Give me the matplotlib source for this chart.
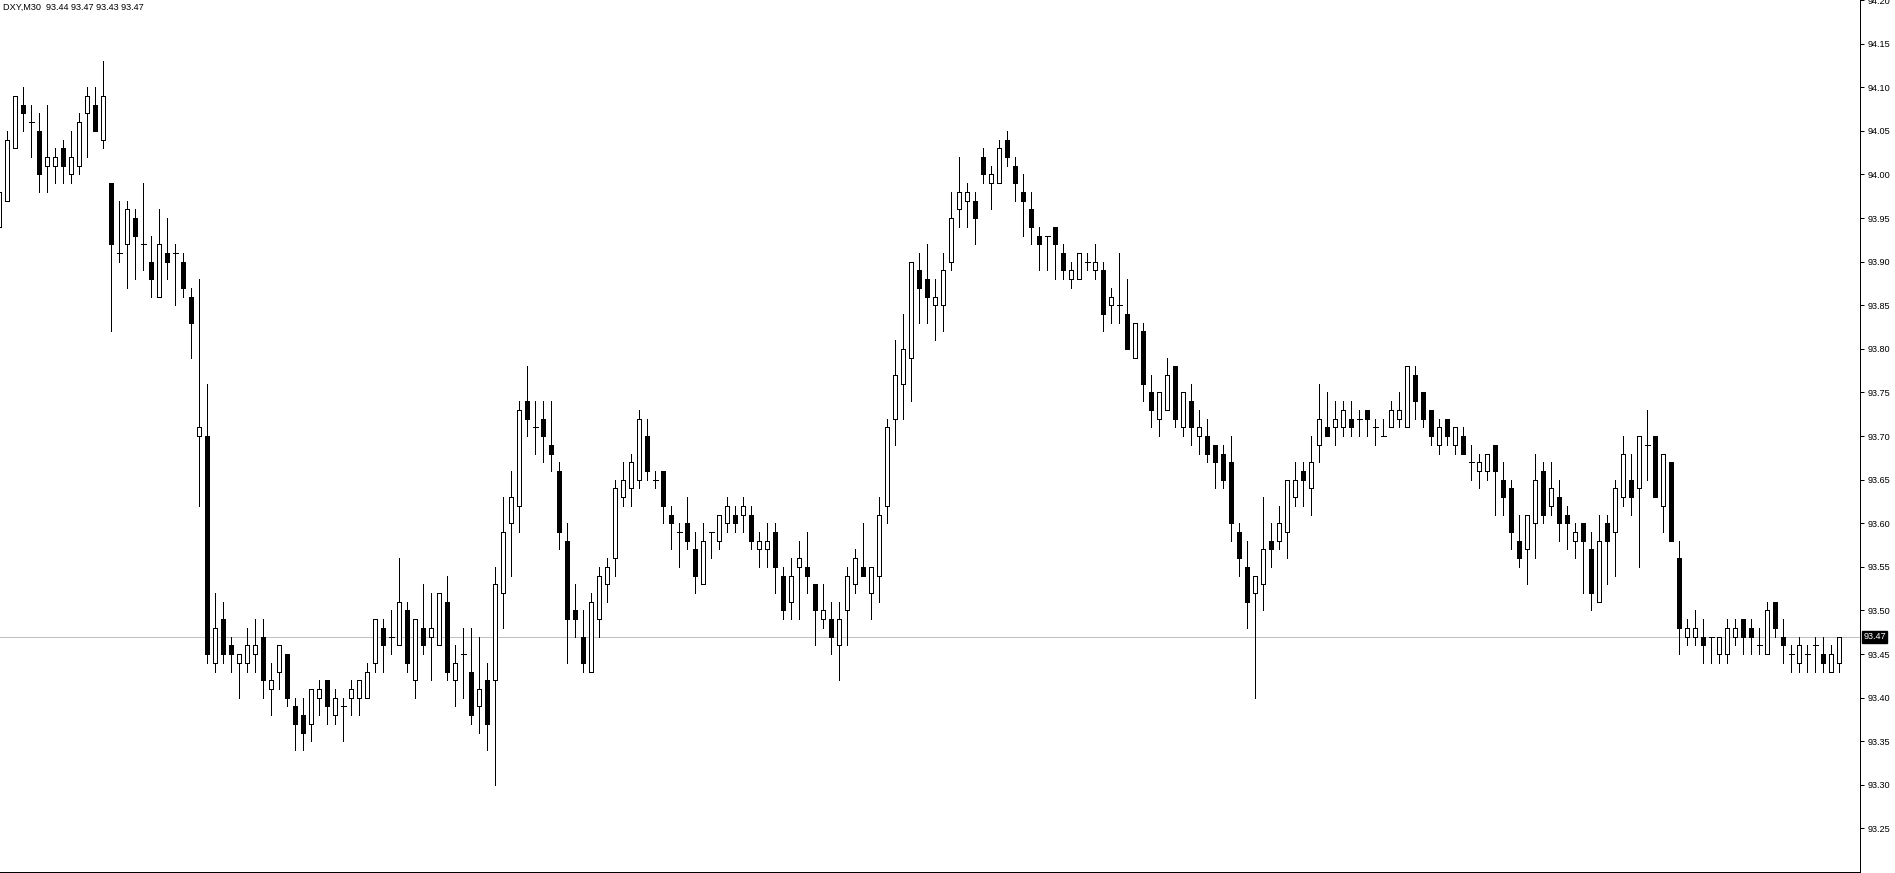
import matplotlib
matplotlib.use("Agg")
import matplotlib.pyplot as plt
import numpy as np

# ---- data (DXY, M30) ----
opens = [93.94, 93.97, 94.03, 94.08, 94.06, 94.05, 94.01, 94.01, 94.03, 94.00,
         94.01, 94.07, 94.08, 94.04, 93.99, 93.91, 93.92, 93.95, 93.92, 93.90,
         93.86, 93.91, 93.91, 93.90, 93.86, 93.70, 93.70, 93.44, 93.49, 93.46,
         93.44, 93.44, 93.45, 93.47, 93.41, 93.43, 93.45, 93.39, 93.38, 93.37,
         93.40, 93.42, 93.38, 93.39, 93.40, 93.40, 93.40, 93.44, 93.48, 93.47,
         93.46, 93.50, 93.42, 93.48, 93.47, 93.46, 93.51, 93.42, 93.45, 93.43,
         93.39, 93.42, 93.42, 93.52, 93.60, 93.62, 93.74, 93.71, 93.72, 93.69,
         93.66, 93.58, 93.50, 93.47, 93.43, 93.49, 93.53, 93.56, 93.63, 93.64,
         93.65, 93.70, 93.65, 93.66, 93.61, 93.59, 93.60, 93.57, 93.53, 93.59,
         93.58, 93.60, 93.61, 93.61, 93.61, 93.57, 93.57, 93.59, 93.54, 93.51,
         93.55, 93.55, 93.53, 93.49, 93.49, 93.46, 93.50, 93.53, 93.55, 93.52,
         93.54, 93.62, 93.72, 93.76, 93.79, 93.89, 93.88, 93.85, 93.85, 93.90,
         93.96, 93.97, 93.97, 94.02, 93.99, 93.99, 94.04, 94.01, 93.98, 93.96,
         93.93, 93.93, 93.94, 93.91, 93.88, 93.88, 93.90, 93.89, 93.89, 93.85,
         93.85, 93.84, 93.79, 93.82, 93.75, 93.72, 93.73, 93.78, 93.71, 93.74,
         93.70, 93.70, 93.69, 93.68, 93.67, 93.59, 93.55, 93.52, 93.53, 93.58,
         93.58, 93.59, 93.63, 93.66, 93.64, 93.69, 93.71, 93.71, 93.71, 93.72,
         93.72, 93.73, 93.71, 93.70, 93.71, 93.72, 93.71, 93.77, 93.75, 93.73,
         93.69, 93.72, 93.69, 93.70, 93.67, 93.66, 93.66, 93.69, 93.65, 93.64,
         93.58, 93.57, 93.60, 93.66, 93.62, 93.63, 93.61, 93.58, 93.60, 93.57,
         93.51, 93.60, 93.59, 93.63, 93.65, 93.64, 93.69, 93.70, 93.62, 93.67,
         93.56, 93.47, 93.47, 93.47, 93.47, 93.45, 93.45, 93.47, 93.49, 93.48,
         93.46, 93.45, 93.51, 93.47, 93.45, 93.44, 93.45, 93.46, 93.45, 93.43,
         93.44]
highs = [93.99, 94.05, 94.09, 94.10, 94.08, 94.07, 94.08, 94.03, 94.04, 94.05,
         94.07, 94.10, 94.10, 94.13, 93.99, 93.97, 93.97, 93.96, 93.99, 93.93,
         93.96, 93.95, 93.92, 93.91, 93.87, 93.88, 93.76, 93.52, 93.51, 93.47,
         93.45, 93.48, 93.49, 93.49, 93.44, 93.46, 93.45, 93.40, 93.40, 93.41,
         93.42, 93.42, 93.41, 93.40, 93.42, 93.42, 93.44, 93.49, 93.49, 93.50,
         93.56, 93.51, 93.49, 93.53, 93.52, 93.52, 93.54, 93.46, 93.48, 93.48,
         93.47, 93.44, 93.55, 93.63, 93.66, 93.74, 93.78, 93.74, 93.74, 93.74,
         93.67, 93.60, 93.53, 93.50, 93.52, 93.55, 93.56, 93.65, 93.67, 93.68,
         93.73, 93.72, 93.66, 93.66, 93.62, 93.60, 93.63, 93.59, 93.60, 93.59,
         93.61, 93.63, 93.62, 93.63, 93.62, 93.59, 93.60, 93.60, 93.55, 93.56,
         93.58, 93.59, 93.53, 93.53, 93.51, 93.51, 93.55, 93.57, 93.60, 93.55,
         93.63, 93.72, 93.81, 93.84, 93.90, 93.91, 93.92, 93.88, 93.91, 93.98,
         94.02, 93.99, 93.98, 94.03, 94.01, 94.04, 94.05, 94.02, 94.00, 93.98,
         93.94, 93.93, 93.94, 93.92, 93.90, 93.91, 93.91, 93.92, 93.90, 93.87,
         93.91, 93.88, 93.83, 93.83, 93.77, 93.75, 93.79, 93.78, 93.75, 93.76,
         93.73, 93.72, 93.69, 93.69, 93.70, 93.60, 93.58, 93.54, 93.63, 93.60,
         93.62, 93.65, 93.67, 93.67, 93.70, 93.76, 93.75, 93.74, 93.74, 93.74,
         93.73, 93.73, 93.72, 93.72, 93.74, 93.75, 93.78, 93.78, 93.75, 93.73,
         93.72, 93.72, 93.71, 93.71, 93.69, 93.68, 93.68, 93.69, 93.67, 93.65,
         93.61, 93.61, 93.68, 93.67, 93.67, 93.65, 93.62, 93.60, 93.60, 93.59,
         93.61, 93.61, 93.65, 93.70, 93.68, 93.70, 93.73, 93.70, 93.68, 93.67,
         93.58, 93.49, 93.50, 93.49, 93.47, 93.47, 93.49, 93.49, 93.49, 93.49,
         93.48, 93.51, 93.51, 93.49, 93.46, 93.47, 93.46, 93.47, 93.47, 93.46,
         93.47]
lows = [93.93, 93.97, 94.03, 94.05, 94.02, 93.98, 93.98, 93.99, 93.99, 93.99,
        94.00, 94.02, 94.05, 94.03, 93.82, 93.90, 93.87, 93.88, 93.89, 93.86,
        93.86, 93.88, 93.85, 93.86, 93.79, 93.62, 93.44, 93.43, 93.44, 93.43,
        93.40, 93.43, 93.43, 93.40, 93.38, 93.41, 93.39, 93.34, 93.34, 93.35,
        93.38, 93.37, 93.37, 93.35, 93.38, 93.38, 93.40, 93.43, 93.43, 93.45,
        93.46, 93.43, 93.40, 93.45, 93.42, 93.46, 93.42, 93.39, 93.40, 93.37,
        93.36, 93.34, 93.30, 93.48, 93.54, 93.59, 93.70, 93.68, 93.67, 93.66,
        93.57, 93.44, 93.47, 93.43, 93.43, 93.47, 93.51, 93.54, 93.62, 93.62,
        93.64, 93.65, 93.64, 93.60, 93.57, 93.55, 93.57, 93.52, 93.53, 93.56,
        93.57, 93.59, 93.59, 93.59, 93.57, 93.55, 93.55, 93.52, 93.49, 93.49,
        93.49, 93.52, 93.46, 93.48, 93.45, 93.42, 93.46, 93.52, 93.54, 93.49,
        93.51, 93.60, 93.69, 93.72, 93.74, 93.83, 93.83, 93.81, 93.82, 93.89,
        93.94, 93.94, 93.92, 93.99, 93.96, 93.99, 94.01, 93.97, 93.93, 93.92,
        93.89, 93.89, 93.88, 93.88, 93.87, 93.88, 93.89, 93.88, 93.82, 93.83,
        93.83, 93.80, 93.79, 93.74, 93.71, 93.70, 93.73, 93.71, 93.70, 93.69,
        93.68, 93.67, 93.64, 93.64, 93.58, 93.54, 93.48, 93.40, 93.50, 93.55,
        93.57, 93.56, 93.62, 93.62, 93.61, 93.67, 93.70, 93.69, 93.70, 93.70,
        93.70, 93.70, 93.69, 93.70, 93.71, 93.71, 93.71, 93.72, 93.71, 93.69,
        93.68, 93.69, 93.68, 93.68, 93.65, 93.64, 93.65, 93.61, 93.61, 93.57,
        93.55, 93.53, 93.56, 93.60, 93.61, 93.58, 93.57, 93.56, 93.52, 93.50,
        93.51, 93.53, 93.54, 93.62, 93.61, 93.55, 93.65, 93.63, 93.59, 93.58,
        93.45, 93.46, 93.46, 93.44, 93.44, 93.44, 93.44, 93.46, 93.45, 93.45,
        93.45, 93.45, 93.47, 93.44, 93.43, 93.43, 93.43, 93.43, 93.43, 93.43,
        93.43]
closes = [93.98, 94.04, 94.09, 94.07, 94.06, 94.00, 94.02, 94.02, 94.01, 94.02,
          94.06, 94.09, 94.05, 94.09, 93.92, 93.91, 93.96, 93.93, 93.92, 93.88,
          93.92, 93.90, 93.91, 93.87, 93.83, 93.71, 93.45, 93.48, 93.45, 93.45,
          93.45, 93.46, 93.46, 93.42, 93.42, 93.46, 93.40, 93.37, 93.36, 93.41,
          93.41, 93.39, 93.40, 93.39, 93.41, 93.42, 93.43, 93.49, 93.46, 93.47,
          93.51, 93.44, 93.49, 93.46, 93.48, 93.52, 93.43, 93.44, 93.45, 93.38,
          93.41, 93.37, 93.53, 93.59, 93.63, 93.73, 93.72, 93.71, 93.70, 93.68,
          93.59, 93.49, 93.49, 93.44, 93.51, 93.54, 93.55, 93.64, 93.65, 93.67,
          93.72, 93.66, 93.65, 93.62, 93.60, 93.59, 93.58, 93.54, 93.58, 93.59,
          93.61, 93.62, 93.60, 93.62, 93.58, 93.58, 93.58, 93.55, 93.50, 93.54,
          93.56, 93.54, 93.50, 93.50, 93.47, 93.49, 93.54, 93.56, 93.54, 93.55,
          93.61, 93.71, 93.77, 93.80, 93.90, 93.87, 93.86, 93.86, 93.89, 93.95,
          93.98, 93.98, 93.95, 94.00, 94.00, 94.03, 94.02, 93.99, 93.97, 93.94,
          93.92, 93.93, 93.92, 93.89, 93.89, 93.91, 93.90, 93.90, 93.84, 93.86,
          93.85, 93.80, 93.83, 93.76, 93.73, 93.75, 93.77, 93.72, 93.75, 93.71,
          93.71, 93.68, 93.67, 93.65, 93.60, 93.56, 93.51, 93.54, 93.57, 93.57,
          93.60, 93.65, 93.65, 93.65, 93.67, 93.72, 93.70, 93.72, 93.73, 93.71,
          93.72, 93.72, 93.71, 93.70, 93.73, 93.73, 93.78, 93.74, 93.72, 93.70,
          93.71, 93.70, 93.71, 93.68, 93.67, 93.67, 93.68, 93.66, 93.63, 93.59,
          93.56, 93.61, 93.65, 93.61, 93.64, 93.60, 93.60, 93.59, 93.58, 93.52,
          93.58, 93.58, 93.64, 93.68, 93.63, 93.70, 93.69, 93.63, 93.68, 93.58,
          93.48, 93.48, 93.48, 93.46, 93.47, 93.47, 93.48, 93.48, 93.47, 93.47,
          93.46, 93.50, 93.48, 93.46, 93.45, 93.46, 93.45, 93.46, 93.44, 93.45,
          93.47]

symbol_label = "DXY,M30"
current_price = 93.47
y_ticks = [round(93.25 + 0.05 * i, 2) for i in range(20)]

# ---- figure ----
W, H = 1895, 873
fig = plt.figure(figsize=(W / 100, H / 100), dpi=100)
fig.patch.set_facecolor("white")
ax = fig.add_axes([0, 1 / H, 1860 / W, 872 / H])
ax.set_facecolor("white")

n = len(opens)
x = np.arange(n)
o = np.array(opens); h = np.array(highs); l = np.array(lows); c = np.array(closes)

px = 1 * 72 / 100  # one pixel in points

# wicks
ax.vlines(x, l, h, color="black", linewidth=px, antialiased=False, zorder=2)

body_w = 0.5
bull = c > o
bear = c < o
doji = c == o
ax.bar(x[bull], (c - o)[bull], bottom=o[bull], width=body_w, facecolor="white",
       edgecolor="black", linewidth=px, zorder=3, antialiased=False)
ax.bar(x[bear], (c - o)[bear], bottom=o[bear], width=body_w, facecolor="black",
       edgecolor="black", linewidth=px, zorder=3, antialiased=False)
ax.hlines(o[doji], x[doji] - 0.31, x[doji] + 0.31, color="black", linewidth=px,
          antialiased=False, zorder=3)

# current price line
ax.axhline(current_price, color="#c0c0c0", linewidth=px, zorder=1)

ax.set_xlim(0.084, 232.58)
ax.set_ylim(93.2001, 94.2001)

for s in ["left", "top"]:
    ax.spines[s].set_visible(False)
for s in ["right", "bottom"]:
    ax.spines[s].set_linewidth(px)
    ax.spines[s].set_color("black")

ax.set_xticks([])
ax.yaxis.tick_right()
ax.set_yticks(y_ticks)
ax.set_yticklabels([f"{v:.2f}" for v in y_ticks])
ax.tick_params(axis="y", direction="out", length=3.2, width=px, pad=2.5,
               labelsize=6.6, colors="black")
for t in ax.get_yticklabels():
    t.set_fontfamily("Liberation Sans")

# price tag
ax.annotate(f"{current_price:.2f}", xy=(1.0, current_price),
            xycoords=("axes fraction", "data"), xytext=(2.5, 0),
            textcoords="offset points", ha="left", va="center",
            fontsize=6.6, family="Liberation Sans", color="white",
            bbox=dict(boxstyle="square,pad=0.15", facecolor="black",
                      edgecolor="black"), zorder=5, annotation_clip=False)

# header
fig.text(3 / W, 1 - 3 / H, f"{symbol_label}  {o[-1]:.2f} {h[-1]:.2f} {l[-1]:.2f} {c[-1]:.2f}",
         ha="left", va="top", fontsize=6.6, family="Liberation Sans", color="black")

fig.savefig("out.png", dpi=100, facecolor="white")
